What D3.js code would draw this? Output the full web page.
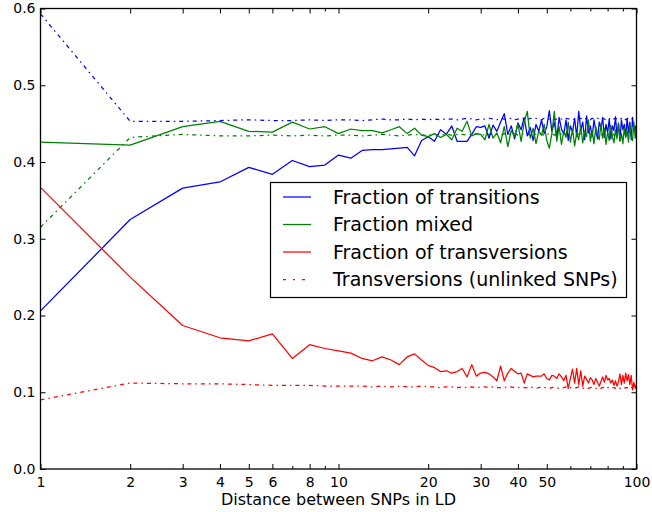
<!DOCTYPE html>
<html>
<head>
<meta charset="utf-8">
<script src="https://cdn.jsdelivr.net/npm/d3@7"></script>
<style>
  html, body { margin: 0; padding: 0; background: #fff; }
  svg { display: block; }
  text { font-family: "DejaVu Sans", sans-serif; fill: #000; }
</style>
</head>
<body>
<svg id="chart" width="652" height="512"></svg>
<script>
// ---------------- DATA ----------------
const distances = d3.range(1, 101);

const transitions = [
  0.206,0.325,0.366,0.374,0.393,0.384,0.402,0.394,0.396,0.409,
  0.405,0.415,0.416,0.416,0.417,0.418,0.419,0.408,0.428,0.433,
  0.427,0.442,0.436,0.447,0.427,0.427,0.427,0.436,0.446,0.445,
  0.447,0.431,0.448,0.440,0.452,0.463,0.436,0.447,0.430,0.451,
  0.442,0.458,0.434,0.445,0.428,0.449,0.440,0.455,0.437,0.446,
  0.467,0.440,0.452,0.431,0.458,0.443,0.436,0.455,0.428,0.447,
  0.439,0.457,0.433,0.466,0.441,0.452,0.429,0.460,0.438,0.447,
  0.433,0.455,0.441,0.430,0.452,0.444,0.458,0.432,0.449,0.438,
  0.456,0.430,0.447,0.441,0.459,0.434,0.450,0.428,0.455,0.442,
  0.449,0.433,0.457,0.438,0.452,0.429,0.458,0.441,0.447,0.436
];

const mixed = [
  0.426,0.422,0.446,0.453,0.440,0.439,0.452,0.443,0.446,0.437,
  0.443,0.441,0.441,0.438,0.442,0.446,0.437,0.444,0.435,0.433,
  0.437,0.432,0.436,0.429,0.444,0.440,0.453,0.434,0.437,0.436,
  0.429,0.449,0.431,0.438,0.425,0.446,0.420,0.441,0.433,0.450,
  0.427,0.452,0.466,0.431,0.444,0.424,0.440,0.435,0.449,0.428,
  0.418,0.437,0.466,0.427,0.446,0.423,0.440,0.432,0.452,0.426,
  0.443,0.421,0.438,0.429,0.447,0.425,0.440,0.433,0.455,0.427,
  0.441,0.424,0.446,0.436,0.429,0.450,0.431,0.444,0.423,0.439,
  0.428,0.448,0.433,0.425,0.442,0.430,0.451,0.427,0.437,0.424,
  0.445,0.432,0.441,0.426,0.449,0.434,0.428,0.452,0.431,0.443
];

const transversions = [
  0.367,0.250,0.187,0.171,0.167,0.176,0.144,0.162,0.157,0.154,
  0.151,0.144,0.141,0.146,0.142,0.136,0.146,0.150,0.142,0.135,
  0.132,0.127,0.128,0.125,0.127,0.131,0.120,0.136,0.121,0.125,
  0.126,0.124,0.120,0.115,0.134,0.115,0.125,0.131,0.127,0.124,
  0.125,0.112,0.124,0.122,0.120,0.121,0.121,0.121,0.124,0.118,
  0.116,0.122,0.121,0.118,0.124,0.120,0.115,0.122,0.105,0.118,
  0.130,0.112,0.131,0.110,0.128,0.108,0.121,0.117,0.112,0.119,
  0.116,0.110,0.118,0.113,0.108,0.114,0.120,0.113,0.122,0.116,
  0.118,0.112,0.116,0.109,0.115,0.108,0.114,0.124,0.110,0.122,
  0.112,0.125,0.115,0.123,0.110,0.122,0.103,0.113,0.105,0.111
];

const transitionsUnlinked = [
  0.593,0.453,0.453,0.454,0.455,0.454,0.454,0.455,0.454,0.455,
  0.455,0.454,0.455,0.456,0.455,0.455,0.456,0.455,0.456,0.455,
  0.456,0.455,0.456,0.456,0.455,0.456,0.457,0.456,0.455,0.456,
  0.456,0.457,0.456,0.455,0.457,0.456,0.456,0.457,0.455,0.456,
  0.457,0.456,0.455,0.457,0.456,0.457,0.456,0.455,0.457,0.456,
  0.456,0.457,0.455,0.456,0.457,0.456,0.455,0.457,0.456,0.457,
  0.456,0.455,0.457,0.456,0.457,0.455,0.456,0.457,0.456,0.455,
  0.457,0.456,0.456,0.457,0.455,0.456,0.457,0.456,0.455,0.457,
  0.456,0.457,0.455,0.456,0.457,0.456,0.456,0.455,0.457,0.456,
  0.457,0.455,0.456,0.457,0.456,0.455,0.457,0.456,0.456,0.457
];

const mixedUnlinked = [
  0.315,0.432,0.436,0.434,0.434,0.435,0.434,0.435,0.434,0.435,
  0.435,0.434,0.435,0.436,0.435,0.434,0.435,0.436,0.435,0.435,
  0.436,0.435,0.436,0.435,0.436,0.436,0.435,0.436,0.437,0.436,
  0.435,0.436,0.437,0.436,0.435,0.437,0.436,0.436,0.437,0.435,
  0.436,0.437,0.436,0.435,0.437,0.436,0.437,0.436,0.435,0.437,
  0.436,0.437,0.435,0.436,0.437,0.436,0.435,0.437,0.436,0.437,
  0.436,0.435,0.437,0.436,0.437,0.436,0.435,0.437,0.436,0.437,
  0.435,0.436,0.437,0.436,0.437,0.435,0.436,0.437,0.436,0.435,
  0.437,0.436,0.437,0.435,0.436,0.437,0.436,0.437,0.435,0.436,
  0.437,0.436,0.435,0.437,0.436,0.437,0.436,0.435,0.437,0.436
];

const transversionsUnlinked = [
  0.090,0.112,0.111,0.111,0.110,0.109,0.109,0.109,0.108,0.108,
  0.108,0.108,0.107,0.108,0.107,0.108,0.107,0.107,0.108,0.107,
  0.107,0.106,0.107,0.107,0.106,0.107,0.106,0.107,0.106,0.107,
  0.107,0.106,0.107,0.106,0.106,0.107,0.106,0.107,0.106,0.106,
  0.107,0.106,0.106,0.107,0.106,0.105,0.106,0.107,0.106,0.106,
  0.105,0.106,0.107,0.106,0.105,0.106,0.106,0.107,0.105,0.106,
  0.106,0.105,0.106,0.107,0.106,0.105,0.106,0.106,0.105,0.106,
  0.107,0.106,0.105,0.106,0.106,0.105,0.106,0.107,0.105,0.106,
  0.106,0.105,0.106,0.106,0.105,0.107,0.106,0.105,0.106,0.106,
  0.105,0.106,0.106,0.105,0.106,0.107,0.105,0.106,0.105,0.106
];

const xMajorTicks = [1,2,3,4,5,6,8,10,20,30,40,50,100];
const xMinorTicks = [7,9,60,70,80,90];
const yTicks = [0,0.1,0.2,0.3,0.4,0.5,0.6];
const xLabel = "Distance between SNPs in LD";
const legendLabels = ["Fraction of transitions","Fraction mixed","Fraction of transversions","Transversions (unlinked SNPs)"];

// ---------------- CHART ----------------
const svg = d3.select("#chart");
const L = 40.5, R = 636.5, T = 8.5, B = 469;
const x = d3.scaleLog().domain([1,100]).range([L,R]);
const y = d3.scaleLinear().domain([0,0.6]).range([B,T]);

const DASHDOT = "4,4,1.5,4";
const LW = 1.25;
const series = [
  {vals: transitionsUnlinked, color: "#0000ff", dash: DASHDOT},
  {vals: mixedUnlinked, color: "#008000", dash: DASHDOT},
  {vals: transversionsUnlinked, color: "#ff0000", dash: DASHDOT},
  {vals: transitions, color: "#0000ff", dash: null},
  {vals: mixed, color: "#008000", dash: null},
  {vals: transversions, color: "#ff0000", dash: null}
];

svg.append("defs").append("clipPath").attr("id","plotclip")
  .append("rect").attr("x",L).attr("y",T).attr("width",R-L).attr("height",B-T);

const line = d3.line().x(d => x(d[0])).y(d => y(d[1]));
const g = svg.append("g").attr("clip-path","url(#plotclip)");
series.forEach(s => {
  g.append("path")
    .datum(distances.map((d,i) => [d, s.vals[i]]))
    .attr("d", line)
    .attr("fill","none")
    .attr("stroke", s.color)
    .attr("stroke-width", LW)
    .attr("stroke-linejoin","round")
    .attr("stroke-dasharray", s.dash);
});

// axes
function styleAxis(sel) {
  sel.select(".domain").remove();
  sel.selectAll("line").attr("stroke","#000").attr("stroke-width",1);
  sel.selectAll("text").style("font-family","DejaVu Sans, sans-serif").style("font-size","14px").attr("fill","#000");
}
svg.append("g").attr("transform",`translate(0,${B})`)
  .call(d3.axisBottom(x).tickValues(xMajorTicks).tickFormat(d => d).tickSize(-5).tickPadding(8))
  .call(styleAxis);
svg.append("g").attr("transform",`translate(0,${B})`)
  .call(d3.axisBottom(x).tickValues(xMinorTicks).tickFormat("").tickSize(-3))
  .call(styleAxis);
svg.append("g").attr("transform",`translate(0,${T})`)
  .call(d3.axisTop(x).tickValues(xMajorTicks).tickFormat("").tickSize(-5))
  .call(styleAxis);
svg.append("g").attr("transform",`translate(0,${T})`)
  .call(d3.axisTop(x).tickValues(xMinorTicks).tickFormat("").tickSize(-3))
  .call(styleAxis);
svg.append("g").attr("transform",`translate(${L},0)`)
  .call(d3.axisLeft(y).tickValues(yTicks).tickFormat(d3.format(".1f")).tickSize(-5).tickPadding(5))
  .call(styleAxis);
svg.append("g").attr("transform",`translate(${R},0)`)
  .call(d3.axisRight(y).tickValues(yTicks).tickFormat("").tickSize(-5))
  .call(styleAxis);

// frame
svg.append("rect").attr("x",L).attr("y",T).attr("width",R-L).attr("height",B-T)
  .attr("fill","none").attr("stroke","#000").attr("stroke-width",1.3);

// x label
svg.append("text").attr("x",(L+R)/2).attr("y",505).attr("text-anchor","middle")
  .style("font-size","16px").text(xLabel);

// legend
const lg = svg.append("g");
lg.append("rect").attr("x",270.5).attr("y",182.5).attr("width",356).attr("height",115)
  .attr("fill","#fff").attr("stroke","#000").attr("stroke-width",1.2);
const legendStyles = [
  {color:"#0000ff", dash:null},
  {color:"#008000", dash:null},
  {color:"#ff0000", dash:null},
  {color:"#ff0000", dash:"3,7,2,7"}
];
const rowY = [197, 224.5, 252, 279.5];
legendLabels.forEach((lab,i) => {
  lg.append("line").attr("x1",283).attr("x2",311).attr("y1",rowY[i]).attr("y2",rowY[i])
    .attr("stroke",legendStyles[i].color).attr("stroke-width",LW)
    .attr("stroke-dasharray",legendStyles[i].dash);
  lg.append("text").attr("x",333).attr("y",rowY[i]).attr("dy","0.35em")
    .style("font-size","19px").text(lab);
});
</script>
</body>
</html>
